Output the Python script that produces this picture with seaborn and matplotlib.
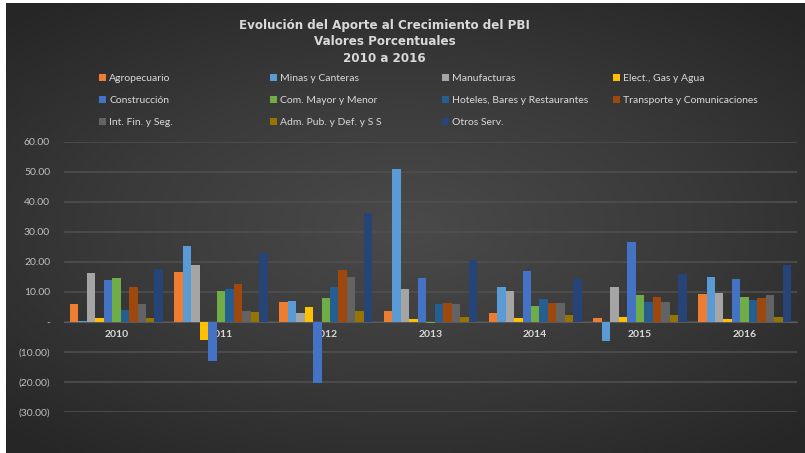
import numpy as np
import pandas as pd
import matplotlib
matplotlib.use("Agg")
import matplotlib.pyplot as plt
import seaborn as sns
from matplotlib.ticker import FuncFormatter

# data (% contribution)
years = ["2010", "2011", "2012", "2013", "2014", "2015", "2016"]
sectors = ["Agropecuario", "Minas y Canteras", "Manufacturas", "Elect., Gas y Agua",
           "Construcción", "Com. Mayor y Menor", "Hoteles, Bares y Restaurantes",
           "Transporte y Comunicaciones", "Int. Fin. y Seg.", "Adm. Pub. y Def. y S S",
           "Otros Serv."]

agropecuario = [6.0, 16.6, 6.6, 3.6, 2.9, 1.2, 9.2]
minas = [0.2, 25.2, 6.9, 50.9, 11.6, -6.3, 14.9]
manufacturas = [16.2, 18.9, 2.9, 10.9, 10.2, 11.6, 9.6]
electricidad = [1.2, -6.1, 4.9, 0.9, 1.2, 1.6, 0.9]
construccion = [13.9, -13.1, -20.4, 14.6, 16.9, 26.6, 14.2]
comercio = [14.6, 10.2, 7.9, -0.3, 5.2, 8.9, 8.2]
hoteles = [3.9, 10.9, 11.6, 5.9, 7.6, 6.6, 7.2]
transporte = [11.6, 12.6, 17.2, 6.2, 6.2, 8.2, 7.9]
int_fin = [6.0, 3.6, 14.9, 5.9, 6.2, 6.6, 8.9]
adm_pub = [1.2, 3.2, 3.6, 1.6, 2.2, 2.2, 1.6]
otros = [17.6, 22.9, 36.2, 20.6, 14.2, 15.9, 18.9]

series = [agropecuario, minas, manufacturas, electricidad, construccion, comercio,
          hoteles, transporte, int_fin, adm_pub, otros]

colors = ["#ED7D31", "#5B9BD5", "#A5A5A5", "#FFC000", "#4472C4", "#70AD47",
          "#255E91", "#9E480E", "#636363", "#997300", "#264478"]

rows = []
for sec, vals in zip(sectors, series):
    for yr, v in zip(years, vals):
        rows.append({"year": yr, "sector": sec, "value": v})
df = pd.DataFrame(rows)

plt.rcParams["font.family"] = ["Lato", "DejaVu Sans"]

fig = plt.figure(figsize=(8.05, 4.53), dpi=100)
fig.patch.set_facecolor("white")

# dark radial gradient background
bg = fig.add_axes([6 / 805, 0, 1 - 6 / 805, 1 - 3 / 453])
yy, xx = np.mgrid[-1:1:200j, -1:1:300j]
r = np.sqrt((xx * 0.9) ** 2 + (yy * 1.0) ** 2)
bg.imshow(r, cmap=matplotlib.colors.LinearSegmentedColormap.from_list(
    "bg", ["#4a4a4a", "#3a3a3a", "#262626"]), aspect="auto", vmin=0, vmax=1.3)
bg.set_axis_off()

ax = fig.add_axes([64 / 805, 1 - 411.7 / 453, (797 - 64) / 805, (411.7 - 141.7) / 453])
ax.set_facecolor("none")

sns.barplot(data=df, x="year", y="value", hue="sector", hue_order=sectors,
            palette=colors, width=0.89, ax=ax, saturation=1, legend=True, zorder=3)

ax.set_ylim(-30, 60)
ax.set_yticks(range(-30, 61, 10))


def fmt(v, pos):
    if abs(v) < 1e-9:
        return "-"
    if v < 0:
        return "({:.2f})".format(-v)
    return "{:.2f}".format(v)


ax.yaxis.set_major_formatter(FuncFormatter(fmt))
ax.grid(axis="y", color="#4f4f4f", lw=1.2, zorder=0)
ax.set_axisbelow(True)
for s in ["top", "right", "left"]:
    ax.spines[s].set_visible(False)
ax.spines["bottom"].set_position(("data", 0))
ax.spines["bottom"].set_color("#5a5a5a")
ax.spines["bottom"].set_zorder(1)
ax.tick_params(axis="y", length=0, colors="#bfbfbf", labelsize=7.5, pad=10)
ax.tick_params(axis="x", length=0, colors="#d9d9d9", labelsize=7.5, pad=6)
for t in ax.get_xticklabels():
    t.set_fontweight("bold")
ax.set_xlabel("")
ax.set_ylabel("")

handles, labels = ax.get_legend_handles_labels()
ax.get_legend().remove()

# legend in 4 columns, filled row by row
col_x = [99, 270, 442, 613]
for c in range(4):
    idx = list(range(c, len(sectors), 4))
    fig.legend([handles[i] for i in idx], [labels[i] for i in idx],
               loc="upper left", bbox_to_anchor=(col_x[c] / 805, 1 - 73.5 / 453),
               frameon=False, fontsize=7.5, labelcolor="#d9d9d9",
               handlelength=0.7, handleheight=0.7, handletextpad=0.3,
               labelspacing=1.25, borderpad=0, borderaxespad=0)

for i, line in enumerate(["Evolución del Aporte al Crecimiento del PBI",
                          "Valores Porcentuales", "2010 a 2016"]):
    fig.text(0.478, 1 - (25 + 16.5 * i) / 453, line, ha="center", va="center",
             color="#d9d9d9", fontsize=8.6, fontweight="bold", family="DejaVu Sans")

fig.savefig("out.png", dpi=100, facecolor=fig.get_facecolor())
